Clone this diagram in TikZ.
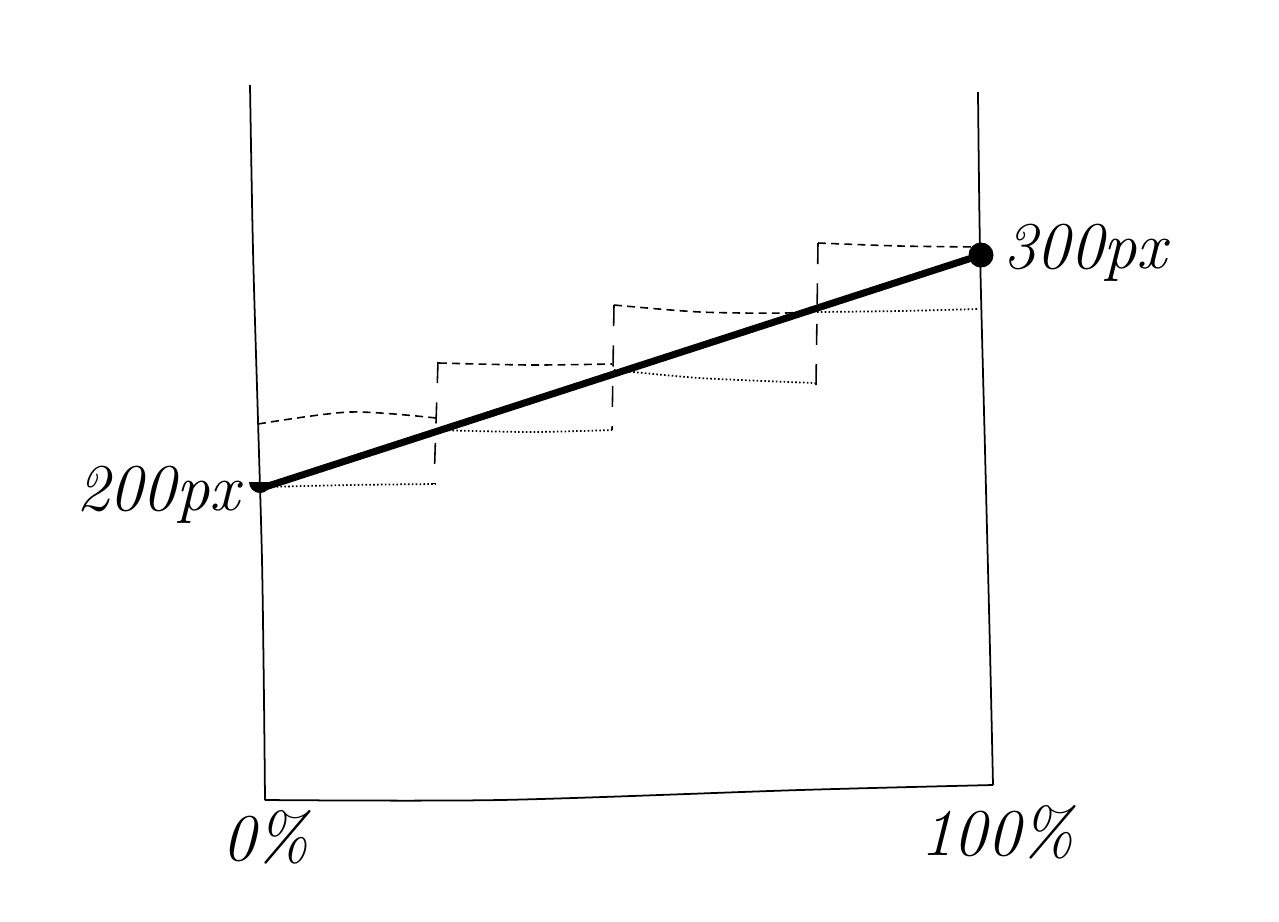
\documentclass[tikz,border=0pt]{standalone}
\usetikzlibrary{positioning}
\begin{document}
\begin{tikzpicture}[x=0.02cm,y=-0.02cm,
  frame/.style={line width=1pt,line join=round},
  ramp/.style={line width=4pt,line cap=round},
  upper/.style={line width=0.9pt,dash pattern=on 4.5pt off 3pt},
  lower/.style={line width=1pt,dash pattern=on 0.9pt off 1.3pt},
  riser/.style={line width=0.9pt,dash pattern=on 12pt off 11pt},
  dot/.style={circle,fill,inner sep=0pt,minimum size=0.5cm},
  hand/.style={font=\fontsize{38}{42}\selectfont\itshape,inner sep=0pt}]
  \useasboundingbox (0,0) rectangle (1279,921);
  % frame
  \draw[frame] plot[smooth] coordinates {(250,85) (253,250) (258,420) (262,560) (264,700) (265,800)}
    plot[smooth] coordinates {(265,800) (500,800) (800,790) (993,785)};
  \draw[frame] plot[smooth] coordinates {(978,92) (980,250) (985,450) (990,650) (993,785)};
  % steps
  \draw[upper] plot[smooth] coordinates {(258,424) (350,412) (436,418)};
  \draw[upper] plot[smooth] coordinates {(439,363) (530,365) (612,364)};
  \draw[upper] plot[smooth] coordinates {(614,305) (700,312) (785,313) (817,310)};
  \draw[upper] plot[smooth] coordinates {(818,243) (900,246) (980,247)};
  \draw[lower] plot[smooth] coordinates {(265,487) (350,485) (436,484)};
  \draw[lower] plot[smooth] coordinates {(437,430) (530,432) (612,430)};
  \draw[lower] plot[smooth] coordinates {(614,370) (700,378) (815,383)};
  \draw[lower] plot[smooth] coordinates {(817,312) (900,311) (978,309)};
  \draw[riser] (438,362) -- (434,484);
  \draw[riser] (614,305) -- (612,430);
  \draw[riser] (818,243) -- (816,385);
  % ramp
  \coordinate (start) at (262,488);
  \node[dot] (end) at (981,255) {};
  \fill (249,482) arc[start angle=180,end angle=0,radius=11] -- cycle;
  \draw[ramp] (start) -- (end);
  % labels
  \node[hand,anchor=base east] (low) at (240,510) {200px};
  \node[hand,anchor=base west] (high) at (1003,268) {300px};
  \node[hand,anchor=base west] (zero) at (222,860) {0\%};
  \node[hand,anchor=base west] (full) at (920,855) {100\%};
\end{tikzpicture}
\end{document}
